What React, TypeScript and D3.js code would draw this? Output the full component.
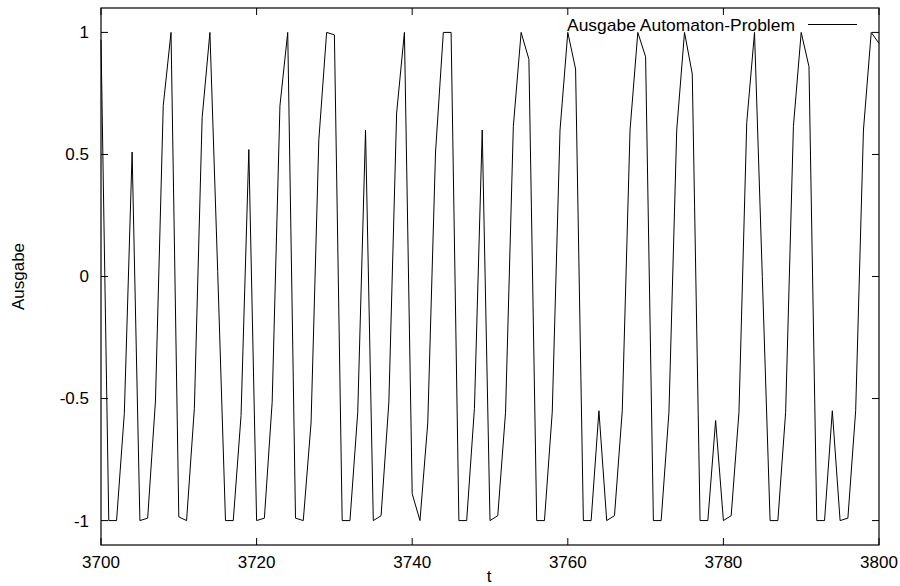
import React from "react";
import * as d3 from "d3";

const tStart = 3700;
const values: number[] = [
  0.97, -1, -1, -0.56, 0.51, -1, -0.99, -0.51, 0.7, 1,
  -0.985, -1, -0.54, 0.65, 1, 0.02, -1, -1, -0.57, 0.52,
  -1, -0.99, -0.515, 0.7, 1, -0.99, -1, -0.6, 0.56, 1,
  0.99, -1, -1, -0.556, 0.6, -1, -0.98, -0.515, 0.67, 1,
  -0.89, -1, -0.6, 0.51, 1, 1, -1, -1, -0.54, 0.6,
  -1, -0.98, -0.556, 0.615, 1, 0.89, -1, -1, -0.556, 0.6,
  1, 0.85, -1, -1, -0.55, -1, -0.98, -0.55, 0.6, 1,
  0.9, -1, -1, -0.556, 0.6, 1, 0.83, -1, -1, -0.59,
  -1, -0.98, -0.556, 0.63, 1, 0.0, -1, -1, -0.556, 0.615,
  1, 0.86, -1, -1, -0.55, -1, -0.99, -0.55, 0.6, 1,
  0.955,
];
const xTicks = [3700, 3720, 3740, 3760, 3780, 3800];
const yTicks = [-1, -0.5, 0, 0.5, 1];
const yTickLabels = ["-1", "-0.5", "0", "0.5", "1"];
const xLabel = "t";
const yLabel = "Ausgabe";
const legendLabel = "Ausgabe Automaton-Problem";

const W = 900;
const H = 586;
const L = 101;
const R = 879;
const T = 8;
const B = 545;
const FONT = "'Liberation Sans', Arial, Helvetica, sans-serif";
const FS = 17;

export default function App() {
  const x = d3.scaleLinear().domain([3700, 3800]).range([L, R]);
  const y = d3.scaleLinear().domain([-1.1, 1.1]).range([B, T]);
  const data = values.map((v, i) => ({ t: tStart + i, v }));
  const line = d3
    .line<{ t: number; v: number }>()
    .x((d) => x(d.t))
    .y((d) => y(d.v));
  const tl = 7;
  return (
    <svg
      width={W}
      height={H}
      style={{ position: "absolute", left: 0, top: 0, background: "#fff" }}
      fontFamily={FONT}
      fontSize={FS}
    >
      <rect x={0} y={0} width={W} height={H} fill="#fff" />
      {/* data line */}
      <path d={line(data) || ""} fill="none" stroke="#000" strokeWidth={1} />
      {/* frame */}
      <rect x={L} y={T} width={R - L} height={B - T} fill="none" stroke="#000" strokeWidth={1.2} />
      {/* x ticks */}
      {xTicks.map((t) => (
        <g key={"x" + t}>
          <line x1={x(t)} x2={x(t)} y1={B} y2={B - tl} stroke="#000" />
          <line x1={x(t)} x2={x(t)} y1={T} y2={T + tl} stroke="#000" />
          <text x={x(t)} y={568} textAnchor="middle" fill="#000">
            {t}
          </text>
        </g>
      ))}
      {/* y ticks */}
      {yTicks.map((v, i) => (
        <g key={"y" + v}>
          <line x1={L} x2={L + tl} y1={y(v)} y2={y(v)} stroke="#000" />
          <line x1={R} x2={R - tl} y1={y(v)} y2={y(v)} stroke="#000" />
          <text x={89} y={y(v)} dy="0.35em" textAnchor="end" fill="#000">
            {yTickLabels[i]}
          </text>
        </g>
      ))}
      {/* axis labels */}
      <text x={489} y={582} textAnchor="middle" fill="#000">
        {xLabel}
      </text>
      <text
        transform={`translate(24, ${y(0)}) rotate(-90)`}
        textAnchor="middle"
        fill="#000"
      >
        {yLabel}
      </text>
      {/* legend */}
      <text x={795} y={31} textAnchor="end" fill="#000" textLength={228} lengthAdjust="spacingAndGlyphs">
        {legendLabel}
      </text>
      <line x1={808} x2={857} y1={24.5} y2={24.5} stroke="#000" />
    </svg>
  );
}
